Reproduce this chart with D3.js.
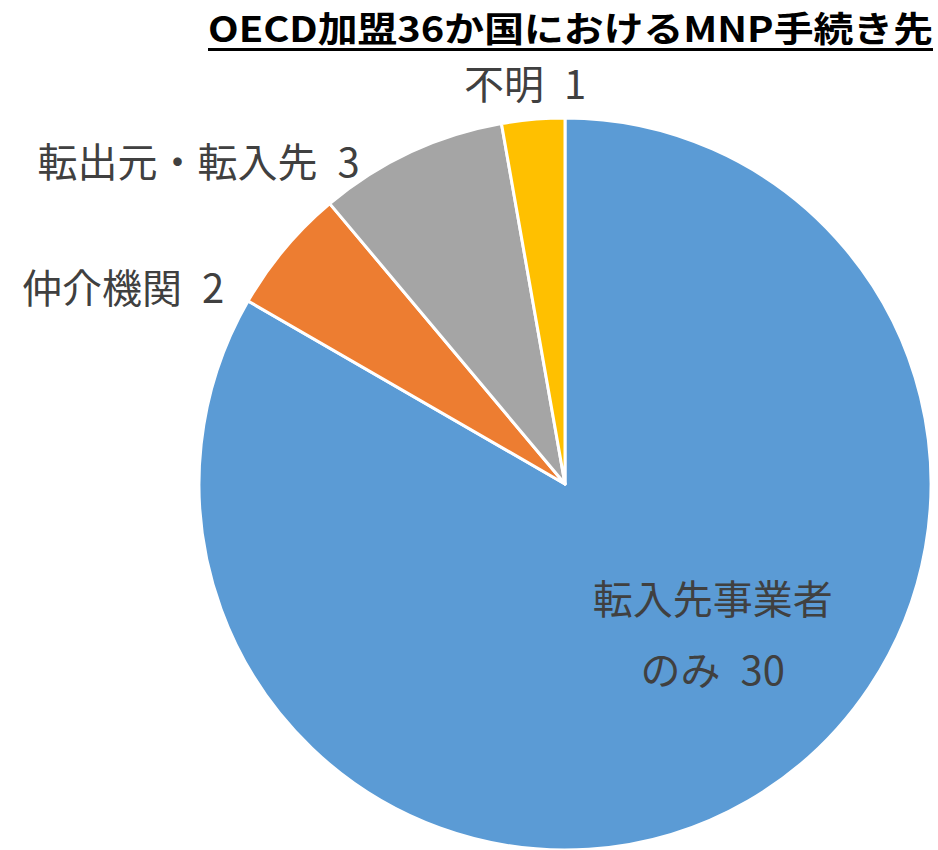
<!DOCTYPE html>
<html>
<head>
<meta charset="utf-8">
<script src="https://cdn.jsdelivr.net/npm/d3@7"></script>
<style>
  body { margin: 0; background: #fff; }
  text { font-family: "Noto Sans CJK JP", "Noto Sans", sans-serif; }
</style>
</head>
<body>
<script>
// data
var categories = ["転入先事業者のみ", "仲介機関", "転出元・転入先", "不明"];
var values = [30, 2, 3, 1];
var colors = ["#5B9BD5", "#ED7D31", "#A5A5A5", "#FFC000"];
var labelLines = [["転入先事業者", "のみ 30"], ["仲介機関 2"], ["転出元・転入先 3"], ["不明 1"]];

// label placement in polar terms (degrees clockwise from 12 o'clock, px from centre)
var labelAngle = [135.6, -60.1, -32.6, -5.7];
var labelRadius = [211, 393, 381, 401];
var labelAnchor = ["middle", "end", "end", "middle"];

var width = 938, height = 850;
var cx = 565, cy = 484, radius = 366;

var svg = d3.select("body").append("svg")
    .attr("width", width)
    .attr("height", height);

// title
svg.append("text")
    .attr("x", 208)
    .attr("y", 42)
    .attr("textLength", 725)
    .attr("lengthAdjust", "spacingAndGlyphs")
    .style("font-size", "35px")
    .style("font-weight", "bold")
    .attr("fill", "#000")
    .text("OECD加盟36か国におけるMNP手続き先");
svg.append("line")
    .attr("x1", 208).attr("x2", 933)
    .attr("y1", 49.5).attr("y2", 49.5)
    .attr("stroke", "#000")
    .attr("stroke-width", 3);

var rows = categories.map((c, i) => ({name: c, value: values[i], i: i}));

var pie = d3.pie()
    .value(d => d.value)
    .sort(null);

var arc = d3.arc()
    .innerRadius(0)
    .outerRadius(radius);

var g = svg.append("g")
    .attr("transform", "translate(" + cx + "," + cy + ")");

g.selectAll("path")
    .data(pie(rows))
    .enter()
    .append("path")
        .attr("d", arc)
        .attr("fill", d => colors[d.data.i])
        .attr("stroke", "#fff")
        .attr("stroke-width", 3)
        .attr("stroke-linejoin", "round");

// labels
var lineHeight = 71;
var labels = g.selectAll("g.label")
    .data(rows)
    .enter()
    .append("g")
        .attr("class", "label")
        .attr("transform", (d, i) => {
            var a = labelAngle[i] * Math.PI / 180;
            var x = labelRadius[i] * Math.sin(a);
            var y = -labelRadius[i] * Math.cos(a);
            return "translate(" + x + "," + y + ")";
        });

labels.each(function(d, i) {
    var lines = labelLines[i];
    var t = d3.select(this).append("text")
        .attr("text-anchor", labelAnchor[i])
        .attr("fill", "#404040")
        .style("font-size", "40px");
    lines.forEach((s, k) => {
        t.append("tspan")
            .attr("x", 0)
            .attr("y", (k - (lines.length - 1) / 2) * lineHeight)
            .attr("dy", "0.36em")
            .text(s.replace(" ", "\u2002"));
    });
});
</script>
</body>
</html>
